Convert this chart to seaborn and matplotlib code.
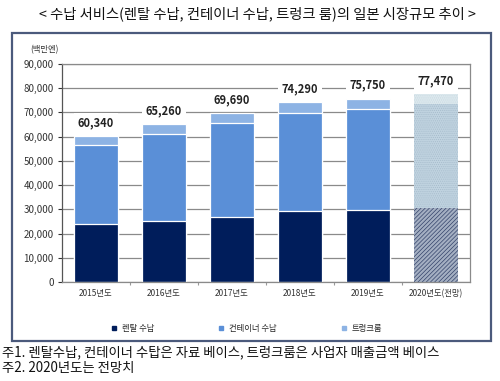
import matplotlib
matplotlib.use("Agg")
import matplotlib.pyplot as plt
import seaborn as sns
import pandas as pd
from matplotlib.patches import Rectangle
from matplotlib.lines import Line2D

years = ['2015년도', '2016년도', '2017년도', '2018년도', '2019년도', '2020년도(전망)']
rental = [24000, 25000, 26900, 29200, 29900, 30600]
container = [32500, 36300, 38900, 40600, 41600, 42700]
trunk = [3840, 3960, 3890, 4490, 4250, 4170]
totals = [60340, 65260, 69690, 74290, 75750, 77470]
series_names = ['렌탈 수납', '컨테이너 수납', '트렁크룸']

df = pd.DataFrame({'year': years, 'rental': rental, 'container': container, 'trunk': trunk})
df['mid'] = df['rental'] + df['container']
df['top'] = df['mid'] + df['trunk']

sns.set_theme(style='white')
plt.rcParams['font.family'] = ['Noto Sans CJK KR', 'DejaVu Sans']
plt.rcParams['hatch.linewidth'] = 0.5

c_rent, c_cont, c_trunk = '#001d5b', '#5a8fd7', '#8db3e4'

fig = plt.figure(figsize=(5, 3.81), dpi=100)
ax = fig.add_axes([0.124, 0.26, 0.816, 0.572])
ax.set_axisbelow(True)

# stacked bars: draw cumulative heights from top layer down
for col, c in [('top', c_trunk), ('mid', c_cont), ('rental', c_rent)]:
    sns.barplot(data=df, x='year', y=col, color=c, saturation=1, width=0.66,
                edgecolor='white', linewidth=0.9, ax=ax)

# 2020 forecast bar: hatched
fc_style = [('#dde9ee', '........', '#c6d7e0'),
            ('#c0d3e0', '........', '#a7bccc'),
            ('#a4afc2', '////////', '#33436a')]
for cont, (fc, h, hc) in zip(ax.containers, fc_style):
    p = cont[5]
    p.set_facecolor(fc)
    p.set_hatch(h)
    p.set_edgecolor(hc)
    p.set_linewidth(0)

for i, t in enumerate(totals):
    ax.text(i, t + 5500, f'{t:,}', ha='center', va='center', fontsize=8, fontweight='bold',
            color='#222222', bbox=dict(facecolor='white', edgecolor='none', pad=2.5))

ax.set_ylim(0, 90000)
ax.set_xlim(-0.5, 5.5)
ax.set_yticks(range(0, 90001, 10000))
ax.set_yticklabels([f'{v:,}' for v in range(0, 90001, 10000)])
ax.yaxis.grid(True, color='#8a8a8a', linewidth=0.9)
ax.set_xlabel(None)
ax.set_ylabel(None)
ax.tick_params(axis='y', labelsize=7, colors='#333333', length=3, width=0.8, left=True, pad=3)
ax.tick_params(axis='x', labelsize=6, colors='#333333', length=0, pad=5)
ax.set_xticks([i + 0.5 for i in range(5)], minor=True)
ax.tick_params(axis='x', which='minor', length=2.5, width=0.8, color='#999999', bottom=True)
for s in ax.spines.values():
    s.set_color('#8a8a8a')
    s.set_linewidth(0.9)
ax.spines['left'].set_color('#555555')

fig.text(0.06, 0.869, '(백만엔)', fontsize=6, color='#333333', ha='left', va='center')

handles = [Line2D([], [], marker='s', linestyle='none', markersize=3.5, color=c)
           for c in [c_rent, c_cont, c_trunk]]
fig.legend(handles, series_names, loc='center', bbox_to_anchor=(0.492, 0.139), ncol=3,
           frameon=False, fontsize=6, columnspacing=7.6, handletextpad=0.4, handlelength=1)

fig.patches.append(Rectangle((0.024, 0.105), 0.958, 0.808, transform=fig.transFigure,
                             fill=False, edgecolor='#4b5a7c', linewidth=1.6))

fig.text(0.514, 0.963, '< 수납 서비스(렌탈 수납, 컨테이너 수납, 트렁크 룸)의 일본 시장규모 추이 >',
         ha='center', va='center', fontsize=10.3, color='#111111')
fig.text(0.004, 0.076, '주1. 렌탈수납, 컨테이너 수탑은 자료 베이스, 트렁크룸은 사업자 매출금액 베이스',
         ha='left', va='center', fontsize=9.6, color='#111111')
fig.text(0.004, 0.034, '주2. 2020년도는 전망치', ha='left', va='center', fontsize=9.6, color='#111111')

fig.savefig('out.png', dpi=100)
